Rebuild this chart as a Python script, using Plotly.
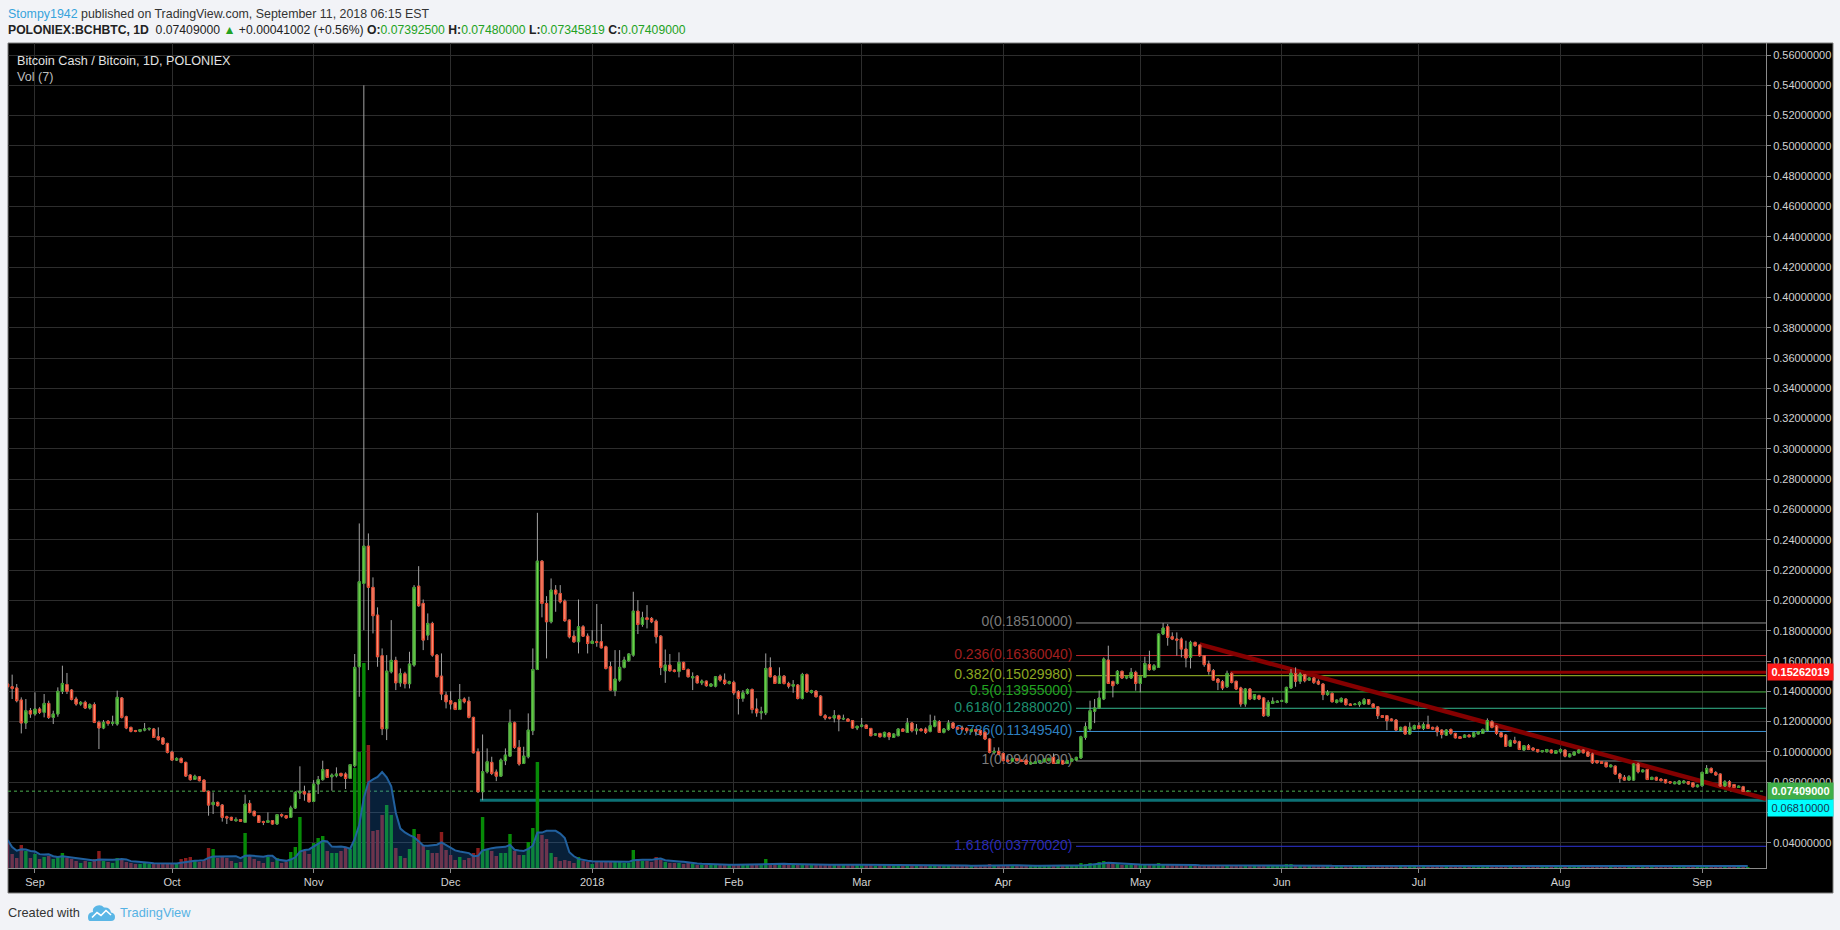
import pandas as pd
import plotly.graph_objects as go

# ---------------- data ----------------
start_date = "2017-08-26"

opens = [
    # Aug 26-31 2017
    0.1448, 0.1430, 0.1422, 0.1342, 0.1191, 0.1272,
    # Sep
    0.1250, 0.1283, 0.1261, 0.1320, 0.1228, 0.1250, 0.1400, 0.1445, 0.1408, 0.1349,
    0.1316, 0.1327, 0.1290, 0.1312, 0.1195, 0.1158, 0.1202, 0.1188, 0.1184, 0.1356,
    0.1232, 0.1162, 0.1140, 0.1136, 0.1144, 0.1151, 0.1151, 0.1100, 0.1092, 0.1056,
    # Oct
    0.0999, 0.0946, 0.0957, 0.0931, 0.0847, 0.0819, 0.0836, 0.0814, 0.0740, 0.0652,
    0.0667, 0.0649, 0.0572, 0.0568, 0.0546, 0.0553, 0.0535, 0.0660, 0.0608, 0.0579,
    0.0540, 0.0535, 0.0546, 0.0524, 0.0586, 0.0579, 0.0568, 0.0630, 0.0729, 0.0737,
    0.0726,
    # Nov
    0.0673, 0.0788, 0.0817, 0.0883, 0.0836, 0.0843, 0.0858, 0.0854, 0.0825, 0.0909,
    0.1562, 0.2112, 0.2358, 0.2086, 0.1903, 0.1635, 0.1153, 0.1529, 0.1604, 0.1456,
    0.1516, 0.1450, 0.1573, 0.2094, 0.1980, 0.1771, 0.1848, 0.1639, 0.1500, 0.1375,
    # Dec
    0.1338, 0.1324, 0.1280, 0.1349, 0.1335, 0.1228, 0.1001, 0.0737, 0.0869, 0.0931,
    0.0867, 0.0840, 0.0942, 0.0972, 0.1192, 0.1030, 0.0924, 0.0968, 0.1140, 0.1544,
    0.2259, 0.1980, 0.1859, 0.2068, 0.2046, 0.1995, 0.1870, 0.1764, 0.1727, 0.1826,
    0.1764,
    # Jan 2018
    0.1716, 0.1727, 0.1727, 0.1694, 0.1562, 0.1404, 0.1474, 0.1558, 0.1602, 0.1639,
    0.1929, 0.1841, 0.1885, 0.1881, 0.1863, 0.1764, 0.1536, 0.1573, 0.1540, 0.1531,
    0.1591, 0.1544, 0.1489, 0.1500, 0.1456, 0.1467, 0.1434, 0.1434, 0.1500, 0.1474,
    0.1452,
    # Feb
    0.1459, 0.1397, 0.1353, 0.1386, 0.1412, 0.1283, 0.1258, 0.1258, 0.1555, 0.1500,
    0.1452, 0.1500, 0.1452, 0.1434, 0.1441, 0.1353, 0.1511, 0.1392, 0.1401, 0.1368,
    0.1239, 0.1228, 0.1224, 0.1239, 0.1217, 0.1217, 0.1206, 0.1158,
    # Mar
    0.1169, 0.1177, 0.1155, 0.1111, 0.1122, 0.1100, 0.1125, 0.1096, 0.1107, 0.1151,
    0.1129, 0.1191, 0.1140, 0.1151, 0.1151, 0.1136, 0.1169, 0.1199, 0.1129, 0.1147,
    0.1191, 0.1162, 0.1158, 0.1155, 0.1136, 0.1147, 0.1140, 0.1129, 0.1085, 0.0997,
    0.1004,
    # Apr
    0.0990, 0.0946, 0.0938, 0.0955, 0.0946, 0.0946, 0.0920, 0.0924, 0.0931, 0.0935,
    0.0942, 0.0964, 0.0924, 0.0942, 0.0924, 0.0938, 0.0946, 0.0960, 0.1096, 0.1151,
    0.1268, 0.1290, 0.1349, 0.1606, 0.1465, 0.1452, 0.1532, 0.1488, 0.1488, 0.1525,
    # May
    0.1452, 0.1492, 0.1576, 0.1543, 0.1558, 0.1778, 0.1826, 0.1760, 0.1745, 0.1745,
    0.1679, 0.1624, 0.1723, 0.1705, 0.1635, 0.1580, 0.1536, 0.1481, 0.1463, 0.1430,
    0.1518, 0.1466, 0.1422, 0.1316, 0.1415, 0.1349, 0.1371, 0.1356, 0.1239, 0.1320,
    0.1327,
    # Jun
    0.1334, 0.1327, 0.1422, 0.1518, 0.1466, 0.1510, 0.1474, 0.1488, 0.1466, 0.1448,
    0.1378, 0.1386, 0.1327, 0.1331, 0.1349, 0.1316, 0.1312, 0.1312, 0.1316, 0.1345,
    0.1316, 0.1298, 0.1239, 0.1239, 0.1217, 0.1210, 0.1140, 0.1166, 0.1118, 0.1151,
    # Jul
    0.1173, 0.1155, 0.1180, 0.1162, 0.1162, 0.1144, 0.1111, 0.1148, 0.1122, 0.1100,
    0.1096, 0.1111, 0.1100, 0.1118, 0.1122, 0.1140, 0.1199, 0.1170, 0.1126, 0.1111,
    0.1038, 0.1074, 0.1067, 0.1012, 0.1041, 0.1025, 0.1016, 0.1001, 0.1001, 0.1012,
    0.0990,
    # Aug
    0.1001, 0.1012, 0.0968, 0.0979, 0.0994, 0.1012, 0.0999, 0.0986, 0.0942, 0.0935,
    0.0931, 0.0902, 0.0906, 0.0854, 0.0832, 0.0814, 0.0814, 0.0920, 0.0869, 0.0884,
    0.0818, 0.0832, 0.0821, 0.0818, 0.0803, 0.0790, 0.0788, 0.0796, 0.0803, 0.0796,
    0.0770,
    # Sep 1-11 2018
    0.0777, 0.0858, 0.0891, 0.0863, 0.0854, 0.0775, 0.0803, 0.0785, 0.0765, 0.0770,
    0.073925,
]

highs = [
    0.1470, 0.1510, 0.1448, 0.1360, 0.1349, 0.1290,
    0.1393, 0.1295, 0.1382, 0.1338, 0.1272, 0.1426, 0.1569, 0.1521, 0.1415, 0.1364,
    0.1335, 0.1338, 0.1320, 0.1327, 0.1206, 0.1210, 0.1210, 0.1239, 0.1404, 0.1362,
    0.1239, 0.1166, 0.1145, 0.1150, 0.1191, 0.1160, 0.1158, 0.1162, 0.1095, 0.1060,
    0.1008, 0.0964, 0.0964, 0.0935, 0.0852, 0.0850, 0.0841, 0.0817, 0.0744, 0.0733,
    0.0672, 0.0656, 0.0579, 0.0572, 0.0568, 0.0557, 0.0718, 0.0682, 0.0612, 0.0583,
    0.0546, 0.0601, 0.0550, 0.0590, 0.0594, 0.0583, 0.0645, 0.0740, 0.0905, 0.0777,
    0.0744,
    0.0814, 0.0841, 0.0942, 0.0887, 0.0858, 0.0898, 0.0862, 0.0865, 0.0920, 0.1646,
    0.2508, 0.5400, 0.2442, 0.2152, 0.1954, 0.1683, 0.1639, 0.1870, 0.1628, 0.1551,
    0.1529, 0.1661, 0.2101, 0.2226, 0.2006, 0.1914, 0.1859, 0.1645, 0.1650, 0.1397,
    0.1401, 0.1330, 0.1448, 0.1360, 0.1364, 0.1232, 0.1023, 0.1115, 0.1023, 0.0968,
    0.0884, 0.0957, 0.1023, 0.1280, 0.1200, 0.1078, 0.1034, 0.1254, 0.1683, 0.2578,
    0.2266, 0.2028, 0.2145, 0.2101, 0.2101, 0.2006, 0.1874, 0.1800, 0.2006, 0.1837,
    0.1782,
    0.1804, 0.1976, 0.1844, 0.1701, 0.1595, 0.1672, 0.1672, 0.1628, 0.1650, 0.2057,
    0.2002, 0.1925, 0.1969, 0.1890, 0.1874, 0.1771, 0.1676, 0.1646, 0.1545, 0.1657,
    0.1595, 0.1551, 0.1525, 0.1507, 0.1478, 0.1470, 0.1452, 0.1500, 0.1511, 0.1518,
    0.1470,
    0.1470, 0.1408, 0.1408, 0.1419, 0.1419, 0.1353, 0.1298, 0.1650, 0.1624, 0.1507,
    0.1558, 0.1507, 0.1463, 0.1474, 0.1448, 0.1522, 0.1518, 0.1410, 0.1408, 0.1375,
    0.1250, 0.1232, 0.1276, 0.1246, 0.1246, 0.1221, 0.1210, 0.1173,
    0.1224, 0.1180, 0.1158, 0.1122, 0.1125, 0.1133, 0.1129, 0.1122, 0.1155, 0.1155,
    0.1224, 0.1195, 0.1184, 0.1155, 0.1162, 0.1246, 0.1239, 0.1210, 0.1158, 0.1210,
    0.1195, 0.1166, 0.1173, 0.1162, 0.1151, 0.1151, 0.1147, 0.1140, 0.1089, 0.1030,
    0.1030,
    0.0997, 0.0975, 0.0960, 0.0960, 0.0950, 0.0950, 0.0935, 0.0940, 0.0948, 0.0958,
    0.0962, 0.0990, 0.0953, 0.0948, 0.0948, 0.0958, 0.0968, 0.1107, 0.1195, 0.1338,
    0.1349, 0.1404, 0.1624, 0.1701, 0.1470, 0.1540, 0.1536, 0.1500, 0.1554, 0.1536,
    0.1500, 0.1628, 0.1668, 0.1580, 0.1782, 0.1851, 0.1844, 0.1789, 0.1789, 0.1756,
    0.1734, 0.1734, 0.1727, 0.1708, 0.1639, 0.1602, 0.1547, 0.1488, 0.1474, 0.1536,
    0.1525, 0.1470, 0.1430, 0.1422, 0.1422, 0.1382, 0.1378, 0.1360, 0.1342, 0.1360,
    0.1340,
    0.1345, 0.1430, 0.1547, 0.1558, 0.1525, 0.1514, 0.1492, 0.1492, 0.1479, 0.1452,
    0.1408, 0.1393, 0.1345, 0.1360, 0.1353, 0.1320, 0.1320, 0.1334, 0.1356, 0.1349,
    0.1320, 0.1303, 0.1243, 0.1243, 0.1221, 0.1217, 0.1166, 0.1173, 0.1195, 0.1180,
    0.1195, 0.1195, 0.1239, 0.1166, 0.1173, 0.1148, 0.1150, 0.1155, 0.1126, 0.1104,
    0.1115, 0.1115, 0.1133, 0.1137, 0.1155, 0.1221, 0.1210, 0.1177, 0.1130, 0.1118,
    0.1082, 0.1100, 0.1074, 0.1045, 0.1052, 0.1030, 0.1019, 0.1012, 0.1019, 0.1016,
    0.1012,
    0.1023, 0.1016, 0.0990, 0.1003, 0.1016, 0.1016, 0.1003, 0.0994, 0.0946, 0.0938,
    0.0935, 0.0917, 0.0910, 0.0862, 0.0847, 0.0847, 0.0924, 0.0928, 0.0884, 0.0887,
    0.0836, 0.0836, 0.0825, 0.0821, 0.0806, 0.0805, 0.0814, 0.0814, 0.0807, 0.0799,
    0.0785,
    0.0869, 0.0913, 0.0898, 0.0873, 0.0858, 0.0814, 0.0814, 0.0788, 0.0778, 0.0776,
    0.0748,
]

lows = [
    0.1420, 0.1349, 0.1327, 0.1122, 0.1151, 0.1225,
    0.1239, 0.1250, 0.1228, 0.1217, 0.1184, 0.1232, 0.1382, 0.1382, 0.1340, 0.1305,
    0.1305, 0.1283, 0.1280, 0.1190, 0.1019, 0.1150, 0.1173, 0.1173, 0.1173, 0.1220,
    0.1150, 0.1129, 0.1130, 0.1130, 0.1136, 0.1140, 0.1092, 0.1074, 0.1048, 0.0990,
    0.0942, 0.0940, 0.0925, 0.0836, 0.0810, 0.0815, 0.0806, 0.0735, 0.0579, 0.0590,
    0.0640, 0.0540, 0.0524, 0.0546, 0.0540, 0.0538, 0.0535, 0.0594, 0.0575, 0.0531,
    0.0517, 0.0531, 0.0520, 0.0520, 0.0568, 0.0560, 0.0564, 0.0623, 0.0689, 0.0678,
    0.0667,
    0.0669, 0.0722, 0.0810, 0.0828, 0.0744, 0.0832, 0.0836, 0.0755, 0.0821, 0.0898,
    0.1364, 0.1804, 0.1540, 0.1782, 0.1562, 0.1111, 0.1078, 0.1518, 0.1408, 0.1430,
    0.1419, 0.1419, 0.1562, 0.1958, 0.1672, 0.1738, 0.1628, 0.1492, 0.1342, 0.1287,
    0.1280, 0.1276, 0.1276, 0.1320, 0.1221, 0.0990, 0.0730, 0.0681, 0.0858, 0.0847,
    0.0807, 0.0836, 0.0913, 0.0968, 0.1020, 0.0909, 0.0920, 0.0957, 0.1111, 0.1540,
    0.1888, 0.1617, 0.1848, 0.1925, 0.1980, 0.1859, 0.1749, 0.1720, 0.1650, 0.1760,
    0.1650,
    0.1712, 0.1694, 0.1683, 0.1544, 0.1404, 0.1368, 0.1463, 0.1551, 0.1595, 0.1628,
    0.1778, 0.1826, 0.1815, 0.1850, 0.1716, 0.1507, 0.1456, 0.1529, 0.1525, 0.1492,
    0.1540, 0.1492, 0.1408, 0.1452, 0.1441, 0.1430, 0.1428, 0.1426, 0.1463, 0.1441,
    0.1445,
    0.1375, 0.1247, 0.1331, 0.1379, 0.1254, 0.1232, 0.1214, 0.1243, 0.1492, 0.1448,
    0.1448, 0.1445, 0.1419, 0.1390, 0.1346, 0.1346, 0.1390, 0.1385, 0.1360, 0.1236,
    0.1210, 0.1215, 0.1195, 0.1136, 0.1210, 0.1198, 0.1154, 0.1144,
    0.1162, 0.1151, 0.1103, 0.1107, 0.1096, 0.1096, 0.1078, 0.1092, 0.1103, 0.1133,
    0.1125, 0.1129, 0.1114, 0.1136, 0.1118, 0.1129, 0.1162, 0.1125, 0.1122, 0.1140,
    0.1151, 0.1147, 0.1140, 0.1122, 0.1129, 0.1107, 0.1107, 0.1078, 0.0990, 0.0982,
    0.0980,
    0.0938, 0.0935, 0.0933, 0.0938, 0.0933, 0.0915, 0.0916, 0.0920, 0.0927, 0.0931,
    0.0938, 0.0920, 0.0920, 0.0916, 0.0920, 0.0933, 0.0940, 0.0955, 0.1080, 0.1140,
    0.1190, 0.1283, 0.1342, 0.1448, 0.1360, 0.1445, 0.1481, 0.1480, 0.1481, 0.1404,
    0.1393, 0.1488, 0.1536, 0.1536, 0.1554, 0.1771, 0.1701, 0.1738, 0.1635, 0.1624,
    0.1558, 0.1551, 0.1694, 0.1628, 0.1562, 0.1510, 0.1470, 0.1408, 0.1408, 0.1422,
    0.1452, 0.1408, 0.1298, 0.1298, 0.1342, 0.1342, 0.1342, 0.1232, 0.1232, 0.1316,
    0.1324,
    0.1330, 0.1320, 0.1415, 0.1430, 0.1448, 0.1459, 0.1470, 0.1448, 0.1441, 0.1342,
    0.1371, 0.1327, 0.1320, 0.1327, 0.1305, 0.1303, 0.1309, 0.1298, 0.1312, 0.1312,
    0.1290, 0.1217, 0.1224, 0.1144, 0.1202, 0.1140, 0.1136, 0.1114, 0.1114, 0.1147,
    0.1151, 0.1144, 0.1151, 0.1147, 0.1103, 0.1089, 0.1105, 0.1111, 0.1089, 0.1085,
    0.1092, 0.1096, 0.1096, 0.1115, 0.1118, 0.1133, 0.1155, 0.1111, 0.1096, 0.1034,
    0.1034, 0.1052, 0.1012, 0.1008, 0.1012, 0.1008, 0.0997, 0.0997, 0.0997, 0.0990,
    0.0986,
    0.0990, 0.0964, 0.0964, 0.0975, 0.0990, 0.0990, 0.0968, 0.0920, 0.0924, 0.0920,
    0.0898, 0.0898, 0.0850, 0.0796, 0.0810, 0.0810, 0.0810, 0.0858, 0.0865, 0.0814,
    0.0814, 0.0810, 0.0806, 0.0792, 0.0792, 0.0787, 0.0784, 0.0792, 0.0784, 0.0766,
    0.0766,
    0.0770, 0.0854, 0.0858, 0.0843, 0.0770, 0.0770, 0.0766, 0.0762, 0.0762, 0.0737,
    0.07345819,
]

closes = [
    0.1430, 0.1419, 0.1338, 0.1191, 0.1272, 0.1250,
    0.1283, 0.1261, 0.1320, 0.1228, 0.1250, 0.1400, 0.1452, 0.1400, 0.1347, 0.1316,
    0.1327, 0.1290, 0.1312, 0.1195, 0.1158, 0.1195, 0.1188, 0.1195, 0.1360, 0.1228,
    0.1158, 0.1136, 0.1136, 0.1147, 0.1151, 0.1155, 0.1096, 0.1081, 0.1052, 0.0997,
    0.0946, 0.0957, 0.0931, 0.0841, 0.0817, 0.0839, 0.0810, 0.0740, 0.0649, 0.0667,
    0.0645, 0.0568, 0.0564, 0.0550, 0.0553, 0.0542, 0.0656, 0.0601, 0.0579, 0.0535,
    0.0535, 0.0546, 0.0524, 0.0586, 0.0579, 0.0564, 0.0630, 0.0733, 0.0740, 0.0722,
    0.0671,
    0.0788, 0.0817, 0.0883, 0.0832, 0.0847, 0.0854, 0.0843, 0.0825, 0.0916, 0.1558,
    0.2123, 0.2358, 0.2086, 0.1899, 0.1628, 0.1153, 0.1533, 0.1604, 0.1456, 0.1516,
    0.1450, 0.1580, 0.2086, 0.1965, 0.1738, 0.1848, 0.1639, 0.1496, 0.1382, 0.1331,
    0.1316, 0.1280, 0.1346, 0.1331, 0.1228, 0.0994, 0.0737, 0.0869, 0.0935, 0.0858,
    0.0840, 0.0946, 0.0979, 0.1192, 0.1030, 0.0920, 0.0972, 0.1144, 0.1544, 0.2259,
    0.1980, 0.1859, 0.2068, 0.2042, 0.1991, 0.1866, 0.1760, 0.1727, 0.1826, 0.1764,
    0.1716,
    0.1731, 0.1723, 0.1687, 0.1551, 0.1408, 0.1481, 0.1558, 0.1606, 0.1646, 0.1929,
    0.1841, 0.1885, 0.1874, 0.1859, 0.1760, 0.1558, 0.1573, 0.1536, 0.1531, 0.1591,
    0.1544, 0.1496, 0.1496, 0.1456, 0.1467, 0.1437, 0.1448, 0.1496, 0.1474, 0.1452,
    0.1463,
    0.1390, 0.1353, 0.1390, 0.1412, 0.1280, 0.1258, 0.1265, 0.1551, 0.1496, 0.1452,
    0.1500, 0.1452, 0.1434, 0.1445, 0.1353, 0.1511, 0.1397, 0.1404, 0.1364, 0.1243,
    0.1224, 0.1224, 0.1239, 0.1217, 0.1221, 0.1202, 0.1158, 0.1169,
    0.1177, 0.1155, 0.1107, 0.1118, 0.1100, 0.1129, 0.1100, 0.1118, 0.1151, 0.1136,
    0.1191, 0.1140, 0.1151, 0.1140, 0.1129, 0.1173, 0.1206, 0.1129, 0.1151, 0.1191,
    0.1158, 0.1151, 0.1151, 0.1140, 0.1147, 0.1136, 0.1114, 0.1085, 0.0997, 0.1004,
    0.0984,
    0.0942, 0.0938, 0.0955, 0.0942, 0.0938, 0.0920, 0.0931, 0.0935, 0.0942, 0.0953,
    0.0957, 0.0924, 0.0946, 0.0920, 0.0942, 0.0953, 0.0964, 0.1100, 0.1166, 0.1272,
    0.1290, 0.1356, 0.1613, 0.1452, 0.1437, 0.1532, 0.1488, 0.1496, 0.1525, 0.1452,
    0.1496, 0.1584, 0.1543, 0.1569, 0.1778, 0.1818, 0.1756, 0.1745, 0.1738, 0.1679,
    0.1620, 0.1723, 0.1701, 0.1635, 0.1576, 0.1532, 0.1474, 0.1459, 0.1422, 0.1518,
    0.1459, 0.1415, 0.1316, 0.1415, 0.1349, 0.1378, 0.1349, 0.1239, 0.1327, 0.1334,
    0.1334,
    0.1338, 0.1426, 0.1518, 0.1466, 0.1514, 0.1470, 0.1488, 0.1459, 0.1448, 0.1378,
    0.1393, 0.1331, 0.1342, 0.1353, 0.1312, 0.1307, 0.1316, 0.1327, 0.1345, 0.1316,
    0.1294, 0.1239, 0.1228, 0.1206, 0.1206, 0.1144, 0.1162, 0.1118, 0.1162, 0.1173,
    0.1155, 0.1180, 0.1155, 0.1151, 0.1133, 0.1115, 0.1144, 0.1122, 0.1093, 0.1089,
    0.1111, 0.1100, 0.1126, 0.1133, 0.1148, 0.1206, 0.1162, 0.1122, 0.1100, 0.1038,
    0.1074, 0.1060, 0.1016, 0.1041, 0.1016, 0.1012, 0.1001, 0.1008, 0.1016, 0.0994,
    0.1008,
    0.1016, 0.0972, 0.0986, 0.0999, 0.1012, 0.0994, 0.0972, 0.0928, 0.0928, 0.0924,
    0.0902, 0.0913, 0.0854, 0.0825, 0.0814, 0.0836, 0.0920, 0.0869, 0.0880, 0.0818,
    0.0832, 0.0814, 0.0810, 0.0796, 0.0796, 0.0801, 0.0807, 0.0807, 0.0788, 0.0770,
    0.0781,
    0.0865, 0.0891, 0.0865, 0.0848, 0.0775, 0.0803, 0.0774, 0.0765, 0.0774, 0.0739,
    0.07409,
]

volume = [
    28, 14, 10, 23, 17, 10,
    14, 9, 11, 12, 9, 12, 15, 10, 9, 7, 5, 7, 6, 9, 17, 7, 6, 5, 10, 9, 6, 5, 4, 4,
    5, 4, 5, 5, 4, 5,
    5, 4, 9, 10, 11, 7, 6, 8, 20, 19, 10, 12, 10, 7, 5, 6, 35, 12, 9, 7, 5, 11, 6, 10,
    5, 6, 16, 21, 51, 17, 14,
    25, 30, 32, 17, 15, 15, 17, 20, 19, 100, 116, 205, 123, 37, 38, 53, 63, 53, 20, 12,
    10, 19, 39, 34, 23, 18, 15, 15, 36, 18,
    13, 8, 11, 8, 10, 15, 20, 51, 18, 17, 12, 15, 15, 34, 17, 13, 13, 26, 40, 106,
    33, 29, 15, 11, 7, 8, 7, 5, 11, 7, 6,
    4, 7, 7, 6, 7, 7, 6, 5, 5, 18, 9, 7, 7, 6, 11, 8, 6, 5, 5, 5, 4, 5, 4, 3, 3, 3, 3,
    4, 3, 3, 3,
    4, 4, 3, 3, 4, 4, 3, 9, 4, 3, 3, 3, 3, 3, 4, 4, 3, 3, 3, 4, 3, 3, 3, 4, 3, 3, 3, 3,
    3, 3, 3, 2, 3, 3, 3, 2, 3, 2, 3, 3, 2, 2, 3, 3, 3, 3, 2, 3, 3, 2, 2, 2, 2, 3, 3, 3,
    4, 3, 3,
    3, 2, 2, 2, 2, 3, 2, 2, 2, 2, 2, 3, 2, 2, 2, 2, 3, 5, 4, 5, 4, 6, 7, 6, 4, 4, 3, 3,
    3, 4,
    3, 4, 3, 3, 5, 4, 4, 3, 3, 3, 3, 3, 2, 3, 3, 3, 3, 3, 3, 3, 3, 2, 3, 3, 3, 2, 2, 3,
    3, 2, 2,
    2, 4, 4, 3, 3, 2, 2, 2, 2, 3, 2, 2, 2, 2, 2, 2, 2, 2, 2, 2, 2, 3, 2, 2, 2, 3, 2, 2,
    2, 2,
    2, 2, 2, 2, 2, 2, 2, 2, 2, 2, 2, 2, 2, 2, 2, 3, 2, 2, 2, 3, 2, 2, 2, 2, 2, 2, 2, 2,
    2, 2, 2,
    2, 2, 2, 2, 2, 2, 2, 3, 2, 2, 2, 2, 3, 3, 2, 2, 3, 2, 2, 2, 2, 2, 2, 2, 2, 2, 2, 2,
    2, 2, 2,
    3, 3, 3, 2, 3, 2, 2, 2, 2, 2, 1,
]

N = len(closes)
assert len(opens) == N and len(highs) == N and len(lows) == N and len(volume) == N, (
    len(opens), len(highs), len(lows), len(closes), len(volume))
dates = pd.date_range(start_date, periods=N, freq="D")

price_ticks = [0.04, 0.06, 0.08, 0.10, 0.12, 0.14, 0.16, 0.18, 0.20, 0.22, 0.24, 0.26,
               0.28, 0.30, 0.32, 0.34, 0.36, 0.38, 0.40, 0.42, 0.44, 0.46, 0.48, 0.50,
               0.52, 0.54, 0.56]
# the 0.06 scale label is hidden behind the cyan price tag in the original
hidden_tick_labels = [0.06]
month_ticks = ["2017-09-01", "2017-10-01", "2017-11-01", "2017-12-01", "2018-01-01",
               "2018-02-01", "2018-03-01", "2018-04-01", "2018-05-01", "2018-06-01",
               "2018-07-01", "2018-08-01", "2018-09-01"]
month_labels = ["Sep", "Oct", "Nov", "Dec", "2018", "Feb", "Mar", "Apr", "May", "Jun",
                "Jul", "Aug", "Sep"]

# Fibonacci retracement drawing
fib_ratio_labels = ["0", "0.236", "0.382", "0.5", "0.618", "0.786", "1", "1.618"]
fib_levels = [0.18510000, 0.16360040, 0.15029980, 0.13955000, 0.12880020, 0.11349540,
              0.09400000, 0.03770020]
fib_start = "2018-04-16 22:30"
fib_label_anchor = "2018-04-16 04:00"

# other drawings
last_price = 0.07409000
support_level = 0.06810000
support_start = "2017-12-07 10:00"
resistance_level = 0.15262019
resistance_start = "2018-05-20 17:00"
trend_dates = ["2018-05-14 00:00", "2018-09-15 00:00"]
trend_values = [0.1710, 0.0690]

# ---------------- styling ----------------
W, H = 1840, 930
L, R, T, B = 8, 1766, 43, 868
X_RANGE = ["2017-08-26 02:10", "2018-09-15 00:00"]
Y_RANGE = [0.02337, 0.56792]
VOL_RANGE = [0, 825]

FONT = "Liberation Sans, Arial, Helvetica, sans-serif"
GRID = "#2d2d2d"
AXIS_LINE = "#8a8a8a"
TICK_TXT = "#d2d2d2"
INC_FILL, INC_LINE = "#6fd24e", "#3c9e2c"
DEC_FILL, DEC_LINE = "#f98b70", "#e5442a"
WICK = "#a3a3a3"
VOL_UP, VOL_DN = "#078a07", "#8a1c1c"

fib_line_colors = ["#8f8f8f", "#c0272d", "#a3c22b", "#3aa935", "#34b990", "#3c92d4",
                   "#8f8f8f", "#2f33d8"]
fib_text_colors = ["#7b7b7b", "#a01f1f", "#8da622", "#22a322", "#1f8f70", "#2e7fbf",
                   "#7b7b7b", "#2a2ab8"]


def px(x):
    return (x - L) / (R - L)


def py(y):
    return (B - y) / (B - T)


fig = go.Figure()

# --- base layer (price axis 'y'): drawings that sit below the candles ---
fig.add_trace(go.Scatter(x=X_RANGE, y=[last_price, last_price], mode="lines",
                         line=dict(color="#4caf50", width=1, dash="dot"),
                         hoverinfo="skip", yaxis="y"))
fig.add_trace(go.Scatter(x=[support_start, X_RANGE[1]], y=[support_level, support_level],
                         mode="lines", line=dict(color="#0d7074", width=3),
                         hoverinfo="skip", yaxis="y"))
for lvl, col in zip(fib_levels, fib_line_colors):
    fig.add_trace(go.Scatter(x=[fib_start, X_RANGE[1]], y=[lvl, lvl], mode="lines",
                             line=dict(color=col, width=1), hoverinfo="skip", yaxis="y"))
fig.add_trace(go.Scatter(
    x=[fib_label_anchor] * len(fib_levels), y=fib_levels, mode="text",
    text=[f"{r}({v:.8f})" for r, v in zip(fib_ratio_labels, fib_levels)],
    textposition="middle left",
    textfont=dict(family=FONT, size=14, color=fib_text_colors),
    hoverinfo="skip", yaxis="y"))
fig.add_trace(go.Scatter(x=[resistance_start, X_RANGE[1]],
                         y=[resistance_level, resistance_level], mode="lines",
                         line=dict(color="#8b0000", width=3), hoverinfo="skip", yaxis="y"))
fig.add_trace(go.Scatter(x=trend_dates, y=trend_values, mode="lines",
                         line=dict(color="#850000", width=4.5), hoverinfo="skip", yaxis="y"))

# --- volume layer ('y2') ---
vol_colors = [VOL_UP if c >= o else VOL_DN for o, c in zip(opens, closes)]
fig.add_trace(go.Bar(x=dates, y=volume, marker=dict(color=vol_colors, line=dict(width=0)),
                     hoverinfo="skip", yaxis="y2"))
vol_ma = pd.Series(volume).rolling(7, min_periods=1).mean()
fig.add_trace(go.Scatter(x=dates, y=vol_ma, mode="lines", fill="tozeroy",
                         fillcolor="rgba(30,120,210,0.27)",
                         line=dict(color="#21609e", width=2),
                         hoverinfo="skip", yaxis="y2"))

# --- candles ('y3'): grey wicks, coloured bodies ---
fig.add_trace(go.Candlestick(
    x=dates, open=opens, high=highs, low=lows, close=closes,
    increasing=dict(line=dict(color=WICK, width=1), fillcolor="rgba(0,0,0,0)"),
    decreasing=dict(line=dict(color=WICK, width=1), fillcolor="rgba(0,0,0,0)"),
    whiskerwidth=0, hoverinfo="skip", yaxis="y3"))
body_hi = [max(o, c) for o, c in zip(opens, closes)]
body_lo = [min(o, c) for o, c in zip(opens, closes)]
fig.add_trace(go.Candlestick(
    x=dates, open=opens, high=body_hi, low=body_lo, close=closes,
    increasing=dict(line=dict(color=INC_LINE, width=1), fillcolor=INC_FILL),
    decreasing=dict(line=dict(color=DEC_LINE, width=1), fillcolor=DEC_FILL),
    whiskerwidth=0, hoverinfo="skip", yaxis="y3"))


def ann(x, y, text, size=12.4, color="#333333", xanchor="left", **kw):
    d = dict(x=px(x), y=py(y), xref="paper", yref="paper", text=text, showarrow=False,
             xanchor=xanchor, yanchor="middle", align="left",
             font=dict(family=FONT, size=size, color=color))
    d.update(kw)
    return d


G = "#23a223"
header1 = ('<span style="color:#36a3dc">Stompy1942</span> published on TradingView.com, '
           'September 11, 2018 06:15 EST')
header2 = (f'<b>POLONIEX:BCHBTC, 1D</b>  {closes[-1]:.8f} <span style="color:{G}">▲</span> '
           f'+0.00041002 (+0.56%) '
           f'<b>O:</b><span style="color:{G}">{opens[-1]:.8f}</span> '
           f'<b>H:</b><span style="color:{G}">{highs[-1]:.8f}</span> '
           f'<b>L:</b><span style="color:{G}">{lows[-1]:.8f}</span> '
           f'<b>C:</b><span style="color:{G}">{closes[-1]:.8f}</span>')

annotations = [
    ann(6, 14, header1),
    ann(6, 29.5, header2, size=12.2, color="#222222"),
    ann(15, 61, "Bitcoin Cash / Bitcoin, 1D, POLONIEX", size=12.6, color="#e2e2e2"),
    ann(15, 77, "Vol (7)", size=12.6, color="#bdbdbd"),
    ann(6, 913, "Created with", size=12.8, color="#333333"),
    ann(118, 913, "TradingView", size=12.8, color="#56b2e4"),
]


def price_box(value, bg, fg, bold=True, yshift=0):
    txt = f"{value:.8f}"
    return dict(xref="paper", x=1, xanchor="left", xshift=1, yref="y", y=value,
                yanchor="middle", yshift=yshift,
                text=f"<b>{txt}</b>" if bold else txt, showarrow=False,
                bgcolor=bg, width=62, height=13, borderpad=1.5,
                font=dict(family=FONT, size=11, color=fg), align="center")


annotations += [
    price_box(resistance_level, "#ff1a1a", "#ffffff"),
    price_box(last_price, "#3fae49", "#ffffff"),
    price_box(support_level, "#00ffff", "#17324d", bold=False, yshift=-8),
]

shapes = [
    # black chart panel with a thin border
    dict(type="rect", xref="paper", yref="paper", x0=px(8), x1=px(1833), y0=py(893),
         y1=py(43), fillcolor="#000000", line=dict(color="#7d7d7d", width=1), layer="below"),
    # TradingView logo (cloud + zig-zag)
    dict(type="path", xref="paper", yref="paper", xsizemode="pixel", ysizemode="pixel",
         xanchor=px(88), yanchor=py(921),
         path="M 2,0 L 23,0 Q 27,0 27,4 Q 27,8 23,8.5 Q 22,14 16,13.5 Q 13,17 8,15 "
              "Q 4,13 5,9 Q 0,8.5 0,4 Q 0,0 2,0 Z",
         fillcolor="#5ab6e6", line=dict(width=0)),
    dict(type="path", xref="paper", yref="paper", xsizemode="pixel", ysizemode="pixel",
         xanchor=px(88), yanchor=py(921),
         path="M 4,3.5 L 9,8.5 L 13,5.5 L 18,10.5 L 23,6",
         line=dict(color="#ffffff", width=1.6)),
]

axis_common = dict(showgrid=True, gridcolor=GRID, gridwidth=1, zeroline=False,
                   showline=True, linecolor=AXIS_LINE, linewidth=1, ticks="outside",
                   ticklen=4, tickcolor=AXIS_LINE,
                   tickfont=dict(family=FONT, size=11, color=TICK_TXT))

fig.update_layout(
    width=W, height=H, autosize=False,
    margin=dict(l=L, r=W - R, t=T, b=H - B, pad=0),
    paper_bgcolor="#f2f3f7", plot_bgcolor="#000000",
    showlegend=False, hovermode=False, bargap=0.25,
    font=dict(family=FONT),
    xaxis=dict(type="date", range=X_RANGE, tickvals=month_ticks, ticktext=month_labels,
               rangeslider=dict(visible=False), **axis_common),
    yaxis=dict(side="right", range=Y_RANGE, tickvals=price_ticks,
               ticktext=["" if v in hidden_tick_labels else f"{v:.8f}"
                         for v in price_ticks], **axis_common),
    yaxis2=dict(overlaying="y", range=VOL_RANGE, visible=False),
    yaxis3=dict(overlaying="y", range=Y_RANGE, visible=False),
    annotations=annotations,
    shapes=shapes,
)

fig.write_html("out.html", config={"displayModeBar": False},
               post_script="document.body.style.margin='0';"
                           "document.body.style.overflow='hidden';")
